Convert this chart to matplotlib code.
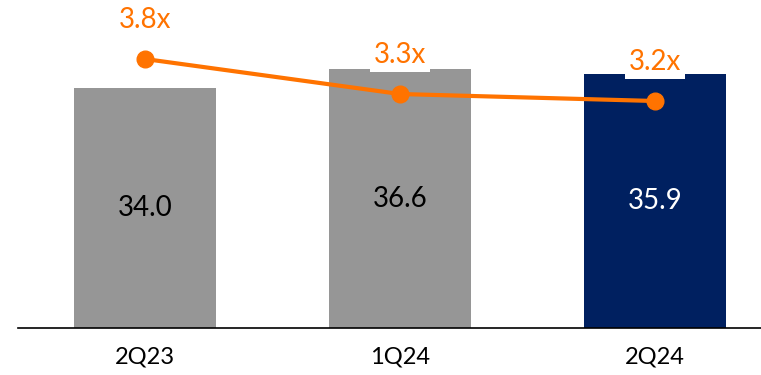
import matplotlib.pyplot as plt

# quarters and values
quarters = ['2Q23', '1Q24', '2Q24']
bar_vals = [34.0, 36.6, 35.9]
ratio_vals = [3.8, 3.3, 3.2]
bar_colors = ['#969696', '#969696', '#002060']
orange = '#FF7300'

plt.rcParams['font.family'] = ['Lato', 'DejaVu Sans']

fig = plt.figure(figsize=(7.61, 3.75), dpi=100)
ax = fig.add_axes([18 / 761, 47 / 375, 743 / 761, 328 / 375])
x = range(len(quarters))

ax.bar(x, bar_vals, width=0.557, color=bar_colors, zorder=1)
for i, v in enumerate(bar_vals):
    ax.text(i, v / 2, f'{v:.1f}', ha='center', va='center', fontsize=20,
            color='white' if i == 2 else 'black')

ax.set_xlim(-0.498, 2.416)
ax.set_ylim(0, 46.4)
ax.set_xticks(list(x))
ax.set_xticklabels(quarters, fontsize=17)
ax.tick_params(axis='x', length=0, pad=13)
ax.set_yticks([])
for s in ['top', 'right', 'left']:
    ax.spines[s].set_visible(False)
ax.spines['bottom'].set_linewidth(1.2)

ax2 = ax.twinx()
ax2.plot(x, ratio_vals, color=orange, lw=3, marker='o', ms=12, zorder=3)
for i, v in enumerate(ratio_vals):
    ax2.annotate(f'{v:.1f}x', (i, v), xytext=(0, 28), textcoords='offset points',
                 ha='center', va='center', fontsize=20, color=orange,
                 bbox=dict(facecolor='white', edgecolor='none', pad=3))
ax2.set_ylim(-0.043, 4.643)
ax2.set_yticks([])
for s in ['top', 'right', 'left', 'bottom']:
    ax2.spines[s].set_visible(False)

fig.savefig('out.png', dpi=100)
